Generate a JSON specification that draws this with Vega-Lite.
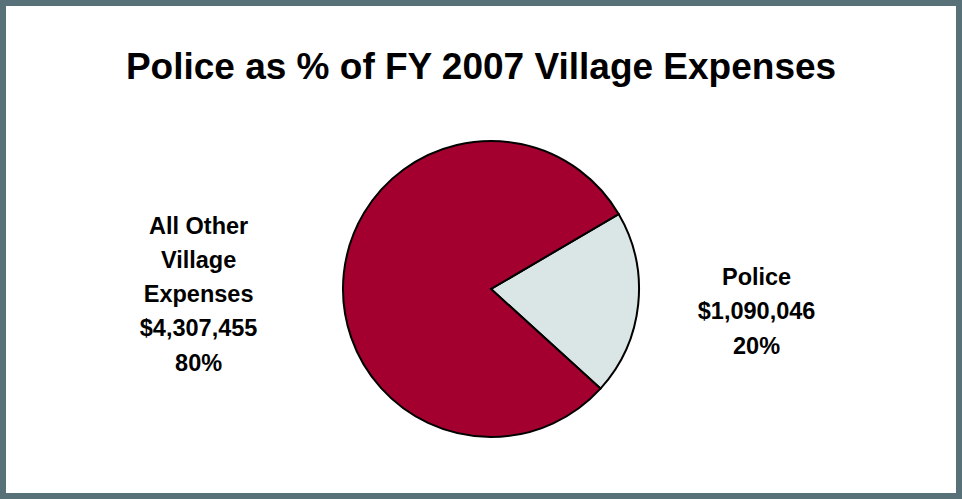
{
  "$schema": "https://vega.github.io/schema/vega-lite/v6.json",
  "width": 962,
  "height": 499,
  "autosize": {"type": "fit", "contains": "padding"},
  "padding": 0,
  "background": "white",
  "config": {"view": {"stroke": null}},
  "title": {
    "text": "Police as % of FY 2007 Village Expenses",
    "font": "Liberation Sans",
    "fontSize": 37,
    "fontWeight": "bold",
    "color": "black",
    "anchor": "middle",
    "baseline": "alphabetic",
    "offset": -116
  },
  "data": {
    "values": [
      {"category": "Police", "amount": 1090046, "label": "Police\n$1,090,046\n20%"},
      {"category": "All Other Village Expenses", "amount": 4307455, "label": "All Other\nVillage\nExpenses\n$4,307,455\n80%"}
    ]
  },
  "layer": [
    {
      "mark": {"type": "rect", "filled": false, "stroke": "#587078", "strokeWidth": 6},
      "encoding": {}
    },
    {
      "mark": {"type": "arc", "outerRadius": 148, "stroke": "black", "strokeWidth": 2, "x": {"expr": "width/2 + 10"}, "y": {"expr": "height/2 + 39.5"}},
      "encoding": {
        "theta": {"field": "amount", "type": "quantitative", "stack": true, "scale": {"range": [1.04, 7.3232]}},
        "order": {"field": "category", "sort": "descending"},
        "color": {"field": "category", "type": "nominal", "scale": {"domain": ["Police", "All Other Village Expenses"], "range": ["#DAE6E6", "#A3002F"]}, "legend": null}
      }
    },
    {
      "mark": {"type": "text", "radius": {"expr": "datum.category == 'Police' ? 267 : 294"}, "dy": {"expr": "datum.category == 'Police' ? -38.5 : -32"}, "x": {"expr": "width/2 + 10"}, "y": {"expr": "height/2 + 39.5"}, "font": "Liberation Sans", "fontWeight": "bold", "fontSize": 23.5, "lineBreak": "\n", "lineHeight": 34.3, "align": "center", "baseline": "middle", "color": "black"},
      "encoding": {
        "theta": {"field": "amount", "type": "quantitative", "stack": true},
        "order": {"field": "category", "sort": "descending"},
        "text": {"field": "label", "type": "nominal"}
      }
    }
  ]
}
